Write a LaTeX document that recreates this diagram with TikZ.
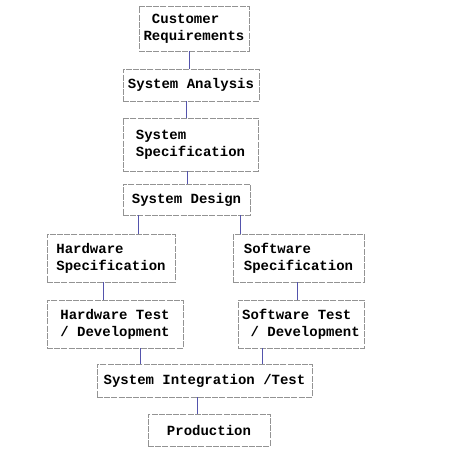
\documentclass[tikz,border=0pt]{standalone}
\usepackage{fontspec}
\setmonofont{Liberation Mono}
\begin{document}
\begin{tikzpicture}[x=1pt,y=-1pt,
		box/.style={draw=gray!85,dash pattern=on 6pt off 1.2pt,line width=0.6pt,inner sep=0pt,align=left,
			font=\ttfamily\bfseries\fontsize{14}{17}\selectfont},
		link/.style={draw=blue!35!gray,line width=0.6pt}]
				\useasboundingbox (0,0) rectangle (460,453);
				\node[box,minimum width=110,minimum height=45] (cusreq) at (194,28.5) {\ Customer\\Requirements};
				\node[box,minimum width=136,minimum height=32] (sysana) at (191,85) {System Analysis};
				\node[box,minimum width=135,minimum height=53] (sysspec) at (190.5,144.5) {System\\Specification};
				\node[box,minimum width=127,minimum height=31] (sysdes) at (186.5,199.5) {System Design};
				\node[box,minimum width=128,minimum height=48] (hwspec) at (111,258) {Hardware\\Specification};
				\node[box,minimum width=131,minimum height=48] (swspec) at (298.5,258) {Software\\Specification};
				\node[box,minimum width=136,minimum height=48] (hwtest) at (115,324) {Hardware Test\\/ Development};
				\node[box,minimum width=126,minimum height=48] (swtest) at (301,324) {Software Test\\\ / Development};
				\node[box,minimum width=215,minimum height=33] (sysint) at (204.5,380.5) {System Integration /Test};
				\node[box,minimum width=122,minimum height=32] (prod) at (209,430) {Production};
				\draw[link] (cusreq.south -| 189,0) -- (sysana.north -| 189,0);
				\draw[link] (sysana.south -| 186,0) -- (sysspec.north -| 186,0);
				\draw[link] (sysspec.south -| 187,0) -- (sysdes.north -| 187,0);
				\draw[link] (sysdes.south -| 138,0) -- (hwspec.north -| 138,0);
				\draw[link] (sysdes.south -| 240,0) -- (swspec.north -| 240,0);
				\draw[link] (hwspec.south -| 103,0) -- (hwtest.north -| 103,0);
				\draw[link] (swspec.south -| 297,0) -- (swtest.north -| 297,0);
				\draw[link] (hwtest.south -| 140,0) -- (sysint.north -| 140,0);
				\draw[link] (swtest.south -| 262,0) -- (sysint.north -| 262,0);
				\draw[link] (sysint.south -| 197,0) -- (prod.north -| 197,0);
		\end{tikzpicture}
\end{document}
